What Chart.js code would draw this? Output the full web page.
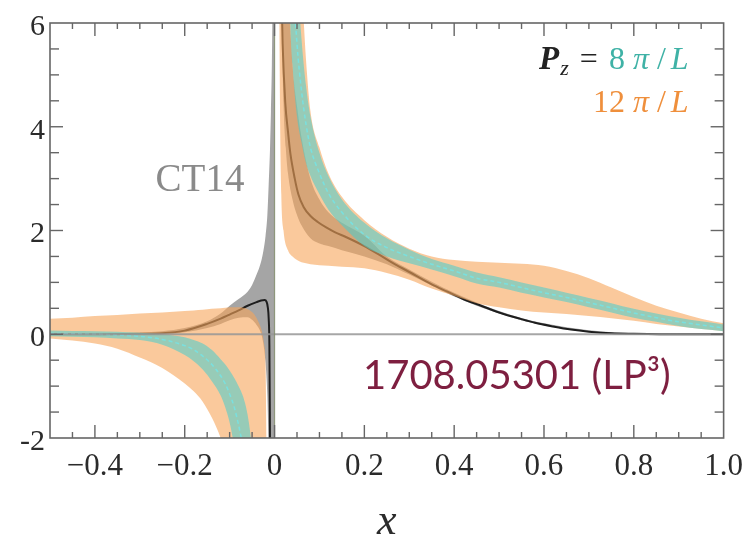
<!DOCTYPE html>
<html>
<head>
<meta charset="utf-8">
<script src="https://cdn.jsdelivr.net/npm/chart.js@4.4.0/dist/chart.umd.min.js"></script>
<style>
  html, body { margin: 0; padding: 0; background: #fff; }
</style>
</head>
<body>
<canvas id="pdfChart" width="753" height="536"></canvas>
<script>
// axis tick labels
const xTicks = [-0.4, -0.2, 0, 0.2, 0.4, 0.6, 0.8, 1.0];
const yTicks = [-2, 0, 2, 4, 6];

// CT14 band, x < 0
const ctNegX  = [-0.3, -0.25, -0.2, -0.15, -0.12, -0.1, -0.08, -0.06, -0.05, -0.04, -0.03, -0.025, -0.02, -0.016, -0.013, -0.01, -0.008, -0.006, -0.004, -0.001];
const ctNegHi = [0.03, 0.06, 0.12, 0.25, 0.4, 0.55, 0.68, 0.82, 0.95, 1.15, 1.4, 1.6, 1.9, 2.3, 2.9, 3.6, 4.3, 5.2, 7, 12];
const ctNegLo = [0.0, 0.0, 0.04, 0.12, 0.2, 0.27, 0.32, 0.33, 0.28, 0.18, 0.02, -0.18, -0.55, -1.2, -2.3, -4, -6, -8, -10, -12];
// CT14 band, x > 0
const ctPosX  = [0.003, 0.006, 0.01, 0.015, 0.02, 0.025, 0.03, 0.04, 0.05, 0.06, 0.08, 0.1, 0.12, 0.15, 0.2, 0.25, 0.3, 0.4, 0.5, 0.6, 0.8, 1.0];
const ctPosLo = [20, 12, 8, 6.5, 4.45, 3.6, 3.1, 2.6, 2.3, 2.1, 1.85, 1.75, 1.7, 1.62, 1.5, 1.35, 1.15, 0.73, 0.4, 0.17, 0.0, 0.0];
const ctPosHi = [30, 24, 18, 14, 10, 8, 6.8, 5.2, 4.4, 3.8, 3.0, 2.6, 2.35, 2.15, 1.9, 1.5, 1.25, 0.8, 0.45, 0.21, 0.02, 0.01];
// CT14 central curve
const ctLineNegX = [-0.5, -0.4, -0.3, -0.25, -0.2, -0.15, -0.12, -0.1, -0.08, -0.06, -0.04, -0.03, -0.022, -0.018, -0.015, -0.013, -0.0115, -0.0105, -0.0095];
const ctLineNegY = [0.0, 0.0, 0.01, 0.02, 0.07, 0.2, 0.3, 0.38, 0.46, 0.55, 0.62, 0.65, 0.66, 0.63, 0.52, 0.3, -0.2, -1.5, -4];
const ctLinePosX = [0.008, 0.012, 0.015, 0.018, 0.024, 0.03, 0.035, 0.045, 0.053, 0.065, 0.08, 0.097, 0.115, 0.134, 0.16, 0.2, 0.23, 0.26, 0.3, 0.35, 0.385, 0.42, 0.46, 0.5, 0.55, 0.58, 0.62, 0.66, 0.7, 0.75, 0.8, 0.9, 1.0];
const ctLinePosY = [14, 8.5, 6.8, 5.6, 4.45, 3.9, 3.5, 3.0, 2.7, 2.45, 2.28, 2.16, 2.06, 1.97, 1.87, 1.7, 1.55, 1.39, 1.2, 0.96, 0.82, 0.68, 0.55, 0.42, 0.29, 0.22, 0.15, 0.09, 0.05, 0.02, 0.01, 0.0, 0.0];

// Pz = 12 pi/L band (orange)
const p12NegX  = [-0.5, -0.45, -0.4, -0.35, -0.3, -0.25, -0.2, -0.18, -0.16, -0.14, -0.12, -0.1, -0.08, -0.06, -0.045, -0.035, -0.028, -0.023, -0.02, -0.018, -0.016];
const p12NegHi = [0.3, 0.32, 0.35, 0.37, 0.4, 0.42, 0.45, 0.46, 0.47, 0.49, 0.5, 0.52, 0.52, 0.48, 0.38, 0.22, 0.05, -0.2, -0.6, -2.2, -5];
const p12NegLo = [-0.08, -0.12, -0.18, -0.28, -0.45, -0.65, -0.95, -1.1, -1.3, -1.6, -2.0, -2.6, -3.5, -5, -6, -7, -8, -8, -8, -8, -8];
const p12PosX  = [0.006, 0.008, 0.01, 0.012, 0.015, 0.02, 0.03, 0.04, 0.05, 0.06, 0.07, 0.08, 0.1, 0.12, 0.15, 0.2, 0.25, 0.3, 0.35, 0.4, 0.45, 0.5, 0.55, 0.6, 0.65, 0.7, 0.75, 0.8, 0.85, 0.9, 0.95, 1.0];
const p12PosHi = [20, 20, 20, 20, 18, 16, 13, 10, 8, 6.8, 5.3, 4.3, 3.6, 3.1, 2.65, 2.2, 1.88, 1.65, 1.5, 1.43, 1.4, 1.38, 1.36, 1.32, 1.22, 1.08, 0.9, 0.72, 0.55, 0.42, 0.3, 0.21];
const p12PosLo = [16, 12, 7.5, 4.5, 2.7, 2.0, 1.62, 1.5, 1.43, 1.39, 1.37, 1.35, 1.33, 1.32, 1.3, 1.27, 1.18, 1.05, 0.88, 0.74, 0.6, 0.52, 0.46, 0.42, 0.39, 0.35, 0.31, 0.26, 0.2, 0.15, 0.1, 0.06];

// Pz = 8 pi/L band (teal) with dashed central value
const p8NegX   = [-0.5, -0.45, -0.4, -0.35, -0.3, -0.25, -0.2, -0.18, -0.16, -0.14, -0.12, -0.11, -0.1, -0.09, -0.08, -0.07, -0.06, -0.05, -0.04];
const p8NegHi  = [0.07, 0.065, 0.06, 0.05, 0.03, 0.0, -0.06, -0.11, -0.18, -0.3, -0.48, -0.58, -0.7, -0.84, -1.0, -1.2, -1.55, -2.2, -3.2];
const p8NegLo  = [-0.04, -0.05, -0.06, -0.08, -0.11, -0.2, -0.4, -0.52, -0.68, -0.9, -1.18, -1.4, -1.7, -2.15, -2.7, -3.4, -4.3, -5.5, -7];
const p8NegMid = [0.015, 0.01, 0.0, -0.015, -0.04, -0.1, -0.22, -0.3, -0.42, -0.58, -0.8, -0.95, -1.15, -1.4, -1.75, -2.2, -2.8, -3.6, -5];
const p8PosX   = [0.025, 0.03, 0.035, 0.04, 0.05, 0.06, 0.07, 0.08, 0.1, 0.12, 0.15, 0.2, 0.25, 0.3, 0.35, 0.4, 0.45, 0.5, 0.55, 0.6, 0.65, 0.7, 0.75, 0.8, 0.85, 0.9, 0.95, 1.0];
const p8PosHi  = [16, 13, 11, 9, 7, 5.7, 4.8, 4.2, 3.5, 3.05, 2.6, 2.15, 1.85, 1.63, 1.45, 1.32, 1.19, 1.1, 1.0, 0.9, 0.8, 0.7, 0.6, 0.49, 0.4, 0.32, 0.25, 0.19];
const p8PosLo  = [10, 8, 6, 5.2, 4.2, 3.7, 3.3, 3.05, 2.7, 2.4, 2.1, 1.7, 1.5, 1.37, 1.25, 1.12, 0.98, 0.9, 0.8, 0.71, 0.62, 0.52, 0.42, 0.32, 0.24, 0.16, 0.1, 0.06];
const p8PosMid = [13, 10.5, 8.5, 7.1, 5.6, 4.7, 4.05, 3.6, 3.1, 2.72, 2.35, 1.92, 1.67, 1.5, 1.35, 1.22, 1.08, 1.0, 0.9, 0.8, 0.71, 0.61, 0.51, 0.41, 0.32, 0.24, 0.18, 0.12];

const GRAY_FILL = 'rgb(165,165,165)';
const ORANGE_FILL = 'rgba(246,165,90,0.6)';
const TEAL_FILL = 'rgba(70,205,205,0.55)';
const TEAL_TEXT = '#3fb2a6';
const ORANGE_TEXT = '#ef8f3c';
const SERIF = '"Liberation Serif", "DejaVu Serif", serif';

function pts(xs, ys) {
    return xs.map((x, i) => ({ x: x, y: ys[i] }));
}

const datasets = [];

// lower edge (invisible) + upper edge filled down to it
function addBand(xs, lo, hi, color, order) {
    const loIndex = datasets.length;
    datasets.push({
        data: pts(xs, lo), borderWidth: 0, pointRadius: 0, fill: false, order: order
    });
    datasets.push({
        data: pts(xs, hi), borderWidth: 0, pointRadius: 0, backgroundColor: color,
        fill: loIndex, order: order
    });
}

function addLine(xs, ys, color, width, dash, order) {
    datasets.push({
        data: pts(xs, ys), borderColor: color, borderWidth: width, borderDash: dash,
        pointRadius: 0, fill: false, order: order
    });
}

// higher order is drawn first
addBand(ctNegX, ctNegLo, ctNegHi, GRAY_FILL, 10);
addBand(ctPosX, ctPosLo, ctPosHi, GRAY_FILL, 10);
addLine(ctLineNegX, ctLineNegY, '#1e1e1e', 2, [], 9);
addLine(ctLinePosX, ctLinePosY, '#1e1e1e', 2, [], 9);
addBand(p12NegX, p12NegLo, p12NegHi, ORANGE_FILL, 8);
addBand(p12PosX, p12PosLo, p12PosHi, ORANGE_FILL, 8);
addBand(p8NegX, p8NegLo, p8NegHi, TEAL_FILL, 7);
addBand(p8PosX, p8PosLo, p8PosHi, TEAL_FILL, 7);
addLine(p8NegX, p8NegMid, 'rgba(120,225,225,0.95)', 1.5, [4, 3], 6);
addLine(p8PosX, p8PosMid, 'rgba(120,225,225,0.95)', 1.5, [4, 3], 6);

// frame, inward ticks, zero lines and labels
const decorPlugin = {
    id: 'decor',
    afterDatasetsDraw(chart) {
        const ctx = chart.ctx;
        const a = chart.chartArea;
        const xs = chart.scales.x, ys = chart.scales.y;
        ctx.save();

        const seg = (x1, y1, x2, y2) => {
            ctx.beginPath(); ctx.moveTo(x1, y1); ctx.lineTo(x2, y2); ctx.stroke();
        };

        // zero lines
        const y0 = ys.getPixelForValue(0);
        const x0 = xs.getPixelForValue(0);
        ctx.strokeStyle = 'rgba(150,150,150,0.85)';
        ctx.lineWidth = 2;
        seg(a.left, y0, a.right, y0);
        ctx.strokeStyle = 'rgba(130,140,110,0.9)';
        ctx.lineWidth = 1.2;
        seg(x0, a.top, x0, a.bottom);

        // frame
        ctx.strokeStyle = '#666';
        ctx.lineWidth = 1.6;
        ctx.strokeRect(a.left, a.top, a.right - a.left, a.bottom - a.top);

        // x ticks every 0.05, major every 0.2
        ctx.lineWidth = 1.4;
        for (let k = -9; k <= 19; k++) {
            const px = xs.getPixelForValue(k * 0.05);
            const len = (k % 4 === 0) ? 13 : 6;
            seg(px, a.bottom, px, a.bottom - len);
            seg(px, a.top, px, a.top + len);
        }
        // y ticks every 0.5, major every 2
        for (let k = -3; k <= 11; k++) {
            const py = ys.getPixelForValue(k * 0.5);
            const len = (k % 4 === 0) ? 13 : 9;
            seg(a.left, py, a.left + len, py);
            seg(a.right, py, a.right - len, py);
        }

        // CT14 label
        ctx.fillStyle = '#8a8a8a';
        ctx.font = '39px ' + SERIF;
        ctx.textAlign = 'center';
        ctx.textBaseline = 'middle';
        ctx.fillText('CT14', xs.getPixelForValue(-0.166), ys.getPixelForValue(2.96));

        // momentum legend, right aligned; gap = extra space before a piece
        const drawRun = (pieces, right, base) => {
            let w = 0;
            pieces.forEach(p => { ctx.font = p.font; w += ctx.measureText(p.t).width + (p.gap || 0); });
            let cx = right - w;
            ctx.textAlign = 'left';
            ctx.textBaseline = 'alphabetic';
            pieces.forEach(p => {
                cx += p.gap || 0;
                ctx.font = p.font;
                ctx.fillStyle = p.c;
                ctx.fillText(p.t, cx, base + (p.dy || 0));
                cx += ctx.measureText(p.t).width;
            });
        };
        const right = xs.getPixelForValue(0.922);
        const F = '32px ' + SERIF, FI = 'italic 32px ' + SERIF;
        drawRun([
            { t: 'P', font: 'italic bold 33px ' + SERIF, c: '#222' },
            { t: 'z', font: 'italic 22px ' + SERIF, c: '#222', dy: 6, gap: 1 },
            { t: '=', font: F, c: '#222', gap: 11 },
            { t: '8', font: F, c: TEAL_TEXT, gap: 11 },
            { t: '\u03C0', font: FI, c: TEAL_TEXT, gap: 8 },
            { t: '/', font: F, c: TEAL_TEXT, gap: 8 },
            { t: 'L', font: FI, c: TEAL_TEXT, gap: 5 }
        ], right, ys.getPixelForValue(5.12));
        drawRun([
            { t: '12', font: F, c: ORANGE_TEXT },
            { t: '\u03C0', font: FI, c: ORANGE_TEXT, gap: 8 },
            { t: '/', font: F, c: ORANGE_TEXT, gap: 8 },
            { t: 'L', font: FI, c: ORANGE_TEXT, gap: 5 }
        ], right, ys.getPixelForValue(4.28));

        // reference label
        ctx.font = '40px Lato, "Open Sans", sans-serif';
        ctx.fillStyle = '#7e1f40';
        ctx.textAlign = 'left';
        ctx.textBaseline = 'alphabetic';
        ctx.fillText('1708.05301 (LP\u00B3)', xs.getPixelForValue(0.197), ys.getPixelForValue(-1.05));

        ctx.restore();
    }
};

function fmtX(v) {
    if (v === 0) return '0';
    const s = Math.abs(v).toFixed(1);
    return v < 0 ? '\u2212' + s : s;
}

new Chart(document.getElementById('pdfChart'), {
    type: 'line',
    data: { datasets: datasets },
    options: {
        responsive: false,
        animation: false,
        devicePixelRatio: 1,
        layout: { padding: { top: 19, right: 25, left: 0, bottom: 0 } },
        elements: { line: { cubicInterpolationMode: 'monotone' } },
        plugins: {
            legend: { display: false },
            tooltip: { enabled: false }
        },
        scales: {
            x: {
                type: 'linear',
                min: -0.5,
                max: 1.0,
                grid: { display: false, drawTicks: false },
                border: { display: false },
                afterBuildTicks: s => { s.ticks = xTicks.map(v => ({ value: v })); },
                afterFit: s => { s.height = 98; },
                ticks: {
                    padding: 10,
                    color: '#2b2b2b',
                    font: { family: SERIF, size: 31 },
                    callback: v => fmtX(v)
                },
                title: {
                    display: true,
                    text: 'x',
                    color: '#2b2b2b',
                    font: { family: SERIF, size: 44, style: 'italic', lineHeight: 1 },
                    padding: { top: 0, bottom: -8 }
                }
            },
            y: {
                type: 'linear',
                min: -2,
                max: 6,
                grid: { display: false, drawTicks: false },
                border: { display: false },
                afterBuildTicks: s => { s.ticks = yTicks.map(v => ({ value: v })); },
                afterFit: s => { s.width = 50; },
                ticks: {
                    padding: 5,
                    labelOffset: 4,
                    color: '#2b2b2b',
                    font: { family: SERIF, size: 30 },
                    callback: v => String(v)
                }
            }
        }
    },
    plugins: [decorPlugin]
});
</script>
</body>
</html>
